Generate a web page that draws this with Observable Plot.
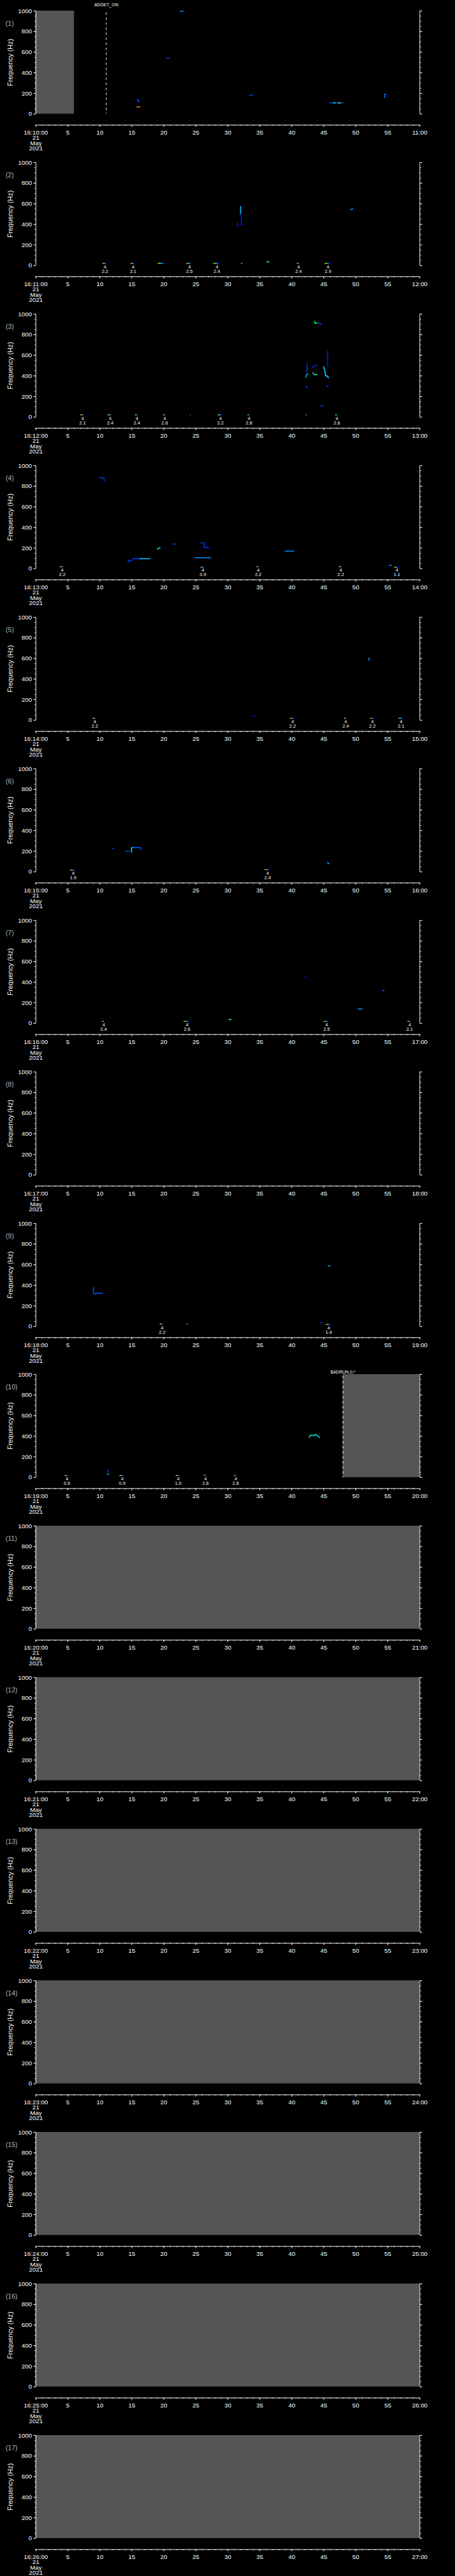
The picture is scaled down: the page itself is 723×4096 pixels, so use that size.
<!DOCTYPE html>
<html><head><meta charset="utf-8">
<script src="https://cdn.jsdelivr.net/npm/d3@7"></script>
<script src="https://cdn.jsdelivr.net/npm/@observablehq/plot@0.6"></script>
<style>
html,body{margin:0;padding:0;background:#000;}
#root{position:relative;width:723px;height:4096px;background:#000;overflow:hidden;}
.panel{position:absolute;left:0;width:723px;}
.panel svg{display:block;overflow:visible;}
</style></head><body>
<svg width="0" height="0" style="position:absolute;left:0;top:0">
<defs><linearGradient id="rainbowBar" x1="0" y1="0" x2="1" y2="0">
<stop offset="0" stop-color="#d00000"/>
<stop offset="0.25" stop-color="#ffff00"/>
<stop offset="0.42" stop-color="#00ff80"/>
<stop offset="0.58" stop-color="#00c8ff"/>
<stop offset="0.72" stop-color="#0000ff"/>
<stop offset="1" stop-color="#0000c0"/>
</linearGradient></defs></svg>
<div id="root"></div>
<script>
// ---------------- data ----------------
const panelLabels = ["(1)","(2)","(3)","(4)","(5)","(6)","(7)","(8)","(9)","(10)","(11)","(12)","(13)","(14)","(15)","(16)","(17)"];
const panelStart = ["16:10:00","16:11:00","16:12:00","16:13:00","16:14:00","16:15:00","16:16:00","16:17:00","16:18:00","16:19:00","16:20:00","16:21:00","16:22:00","16:23:00","16:24:00","16:25:00","16:26:00"];
const panelEnd = ["11:00","12:00","13:00","14:00","15:00","16:00","17:00","18:00","19:00","20:00","21:00","22:00","23:00","24:00","25:00","26:00","27:00"];
const dateLines = ["21","May","2021"];
const timeDomain = [0, 60];
const freqDomain = [0, 1000];
const xTickValues = [0,5,10,15,20,25,30,35,40,45,50,55,60];
const xTickLabels = [null,"5","10","15","20","25","30","35","40","45","50","55",null];
const yTickValues = [0,200,400,600,800,1000];
const yTickLabels = ["0","200","400","600","800","1000"];
const yLabel = "Frequency (Hz)";

// no-data (grey) spans
const gapPanel = [1,10,11,12,13,14,15,16,17];
const gapStart = [0,48,0,0,0,0,0,0,0];
const gapEnd   = [6,60,60,60,60,60,60,60,60];

// event markers
const markPanel = [1,10];
const markTime = [11,48];
const markLabel = ["ADDET_ON","$ADRUN,0,*"];

// detections near 0 Hz with count / value annotations
const barPanel = [2,2,2,2,2,2,2,2, 3,3,3,3,3,3,3,3,3, 4,4,4,4,4, 5,5,5,5,5, 6,6, 7,7,7,7, 9,9,9, 10,10,10,10,10];
const barStart = [10.4,14.8,19.0,23.5,27.7,32.1,40.8,45.1, 6.92,11.18,15.49,19.89,24.1,28.42,33.09,42.16,46.79, 3.74,25.74,34.5,47.33,56.0, 8.87,39.67,48.15,52.23,56.68, 5.33,35.72, 10.37,23.07,44.93,58.08, 19.35,23.56,45.29, 4.51,13.04,21.84,26.29,31.0];
const barEnd   = [11.2,15.6,20.4,24.5,28.9,32.4,41.3,46.2, 7.69,12.04,16.08,20.39,24.3,29.28,33.54,42.43,47.29, 4.51,26.47,35.0,47.97,56.86, 9.55,40.58,48.7,52.96,57.49, 6.33,36.72, 10.82,24.2,45.97,58.76, 20.12,23.84,46.24, 5.19,13.95,22.66,26.74,31.46];
const barFreq  = [19,19,19,19,19,19,19,19, 19,19,19,19,19,19,19,19,19, 16,11,16,16,11, 16,16,16,16,16, 14,19, 16,16,16,16, 21,21,17, 15,15,15,19,15];
const barCount = ["4","4","","4","4","","4","4", "4","4","4","4","","4","4","","4", "4","4","4","4","4", "4","4","4","4","4", "4","4", "4","4","4","4", "4","","4", "4","4","4","4","4"];
const barValue = ["2.2","2.1","","2.5","2.4","","2.4","2.9", "2.1","2.4","2.4","2.6","","2.2","2.8","","2.6", "2.2","0.9","2.2","2.2","1.1", "2.2","2.2","2.4","2.2","2.1", "1.9","2.4", "2.4","2.6","2.5","2.1", "2.2","","1.4", "0.9","0.9","1.0","2.6","2.8"];

// spectrogram traces (time s, frequency Hz, relative intensity 0..1)
const trPanel = [1,1,1,1,1,1,1,1,1,1,1, 2,2,2,2,2, 3,3,3,3,3,3,3,3,3,3,3, 4,4,4,4,4,4,4,4,4, 5,5, 6,6,6,6,6, 7,7,7,7, 9,9,9, 10,10,10];
const trLevel = [.25,.1,.15,.9,.1,.1,.45,.1,.7,.1,.2, .35,.05,.05,.5,.25, .6,.1,.1,.3,.1,.5,.4,.05,.1,.1,.1, .1,.1,.35,.45,.1,.1,.25,.25,.3, .05,.3, .1,.1,.4,.15,.3, .6,.05,.15,.25, .15,.1,.3, .15,.3,.45];
const trTimes = [
  [22.6,23.0],[20.5,20.8],[15.8,16.0,16.0,16.1],[15.8,16.2],[33.4,33.9],[45.9,46.5],[46.5,46.9],[46.9,47.3],[47.3,47.7],[47.7,48.0],[54.5,54.5,54.7],
  [32.0,32.0],[32.05,32.1,32.1,32.3],[31.5,31.5,31.7],[36.1,36.4],[49.2,49.5],
  [43.6,43.6,43.9],[44.1,44.6],[42.4,42.4,42.2],[42.2,42.3,42.5],[43.2,43.5,43.9],[43.3,43.5,43.9],[45.0,45.2,45.3,45.6,45.7],[45.6,45.6,45.5],[42.3,42.4],[45.5,45.7],[44.5,44.9],
  [9.9,10.6,10.7],[14.4,14.5,15.0,15.2,16.3],[16.3,17.8],[19.0,19.4],[21.5,21.9],[25.8,26.3,26.3,27.0],[24.9,27.3],[39.0,40.3],[55.3,55.5],
  [34.0,34.2],[52.1,52.0],
  [11.9,12.1],[14.0,14.6],[14.95,14.95,15.3],[15.3,16.3,16.4],[45.6,45.8],
  [30.2,30.5],[42.1,42.3],[54.2,54.4],[50.4,51.0],
  [9.0,9.0,9.4,9.7,10.0,10.4],[44.5,44.7],[45.75,45.95],
  [11.2,11.4],[11.2,11.4],[42.75,42.85,43.6,43.7,43.9,44.1,44.3]
];
const trFreqs = [
  [998,998],[541,541],[137,137,120,117],[69,69],[180,184],[108,108],[108,108],[108,108],[108,108],[108,108],[162,191,191],
  [573,499],[499,490,395,392],[411,385,385],[36,36],[545,549],
  [931,912,912],[917,900],[516,450,447],[387,415,420],[487,490,506],[430,413,413],[487,435,400,400,380],[642,505,501],[300,284],[300,302],[110,110],
  [884,884,854],[62,78,80,97,97],[97,97],[190,205],[239,239],[252,252,207,205],[107,107],[170,170],[33,33],
  [37,37],[602,587],
  [226,226],[200,200],[193,233,236],[236,236,219],[89,79],
  [37,37],[449,441],[319,319],[140,140],
  [378,321,318,327,321,325],[37,37],[587,587],
  [64,64],[32,32],[389,407,410,418,410,400,389]
];

// ---------------- drawing ----------------
const s = 723 / 1024;
const H = 4096 / 17;
const font = "'Liberation Sans', Arial, sans-serif";
const minorX = d3.range(0, 61, 1);
const minorY = d3.range(0, 1001, 50);

const bars = barPanel.map((p, i) => ({p, t0: barStart[i], t1: barEnd[i], f: barFreq[i], count: barCount[i], value: barValue[i]}));
const gaps = gapPanel.map((p, i) => ({p, t0: gapStart[i], t1: gapEnd[i]}));
const marksData = markPanel.map((p, i) => ({p, t: markTime[i], label: markLabel[i]}));
const points = [];
trPanel.forEach((p, i) => trTimes[i].forEach((t, j) => points.push({p, id: i, t, f: trFreqs[i][j], v: trLevel[i]})));

const root = document.getElementById("root");

for (let k = 0; k < 17; k++) {
  const p = k + 1;
  const pb = bars.filter(d => d.p === p);
  const pl = pb.filter(d => d.count !== "");
  const pg = gaps.filter(d => d.p === p);
  const pm = marksData.filter(d => d.p === p);
  const pp = points.filter(d => d.p === p);
  const xFormat = d => {
    const i = xTickValues.indexOf(d);
    if (i === 0) return [panelStart[k], ...dateLines].join("\n");
    if (i === xTickValues.length - 1) return panelEnd[k];
    return xTickLabels[i];
  };
  const yFormat = d => yTickLabels[yTickValues.indexOf(d)];

  const chart = Plot.plot({
    width: 723,
    height: H,
    marginLeft: 80 * s,
    marginRight: 80 * s,
    marginTop: 24 * s,
    marginBottom: H - 256 * s,
    x: {domain: timeDomain},
    y: {domain: freqDomain},
    color: {type: "linear", domain: [0, 0.2, 0.4, 0.6, 0.8, 1], range: ["#0000e8", "#0070ff", "#00e0ff", "#00ff60", "#ffff00", "#ff0000"]},
    style: {background: "#000", color: "#fff", fontFamily: font, overflow: "visible"},
    marks: [
      Plot.rect(pg, {x1: "t0", x2: "t1", fill: "#555555"}),
      Plot.line(pp, {x: "t", y: "f", z: "id", stroke: "v", strokeWidth: 1.6, strokeLinecap: "square"}),
      Plot.rect(pb, {x1: "t0", x2: "t1", y1: d => d.f - 4, y2: d => d.f + 4, fill: "url(#rainbowBar)"}),
      Plot.ruleX(pm, {x: "t", stroke: "#fff", strokeWidth: 1, strokeDasharray: `${5.3 * s},${6 * s}`, insetTop: 4 * s}),
      Plot.text(pm, {x: "t", text: "label", frameAnchor: "top", textAnchor: "middle", dy: (p === 1 ? -18 : -9) * s, fontSize: 10 * s, fill: "#fff"}),
      Plot.text(pl, {x: d => (d.t0 + d.t1) / 2, text: "count", frameAnchor: "bottom", textAnchor: "middle", dy: 7 * s, fontSize: 10.5 * s, fill: "#fff"}),
      Plot.text(pl, {x: d => (d.t0 + d.t1) / 2, text: "value", frameAnchor: "bottom", textAnchor: "middle", dy: 16.5 * s, fontSize: 10.5 * s, fill: "#fff"}),
      // frequency axes (left labelled, right unlabelled)
      Plot.ruleX(timeDomain, {stroke: "#fff", strokeWidth: 1}),
      Plot.axisY(yTickValues, {anchor: "left", tickSize: 4.7 * s, tickPadding: 4.3 * s, tickFormat: yFormat, fontSize: 14 * s, label: null, stroke: "#fff", fill: "#fff"}),
      Plot.axisY(minorY, {anchor: "left", tickSize: 2.4 * s, fill: "none", label: null, stroke: "#fff"}),
      Plot.axisY(yTickValues, {anchor: "right", tickSize: 4.7 * s, fill: "none", label: null, stroke: "#fff"}),
      Plot.axisY(minorY, {anchor: "right", tickSize: 2.4 * s, fill: "none", label: null, stroke: "#fff"}),
      // time axis, set below the frame
      Plot.ruleY([freqDomain[0]], {dy: 25 * s, stroke: "#fff", strokeWidth: 1}),
      Plot.axisX(xTickValues, {anchor: "bottom", tickSize: 4.7 * s, tickPadding: 7.6 * s, dy: 25 * s, tickFormat: xFormat, fontSize: 14 * s, lineHeight: 0.86, label: null, stroke: "#fff", fill: "#fff"}),
      Plot.axisX(minorX, {anchor: "bottom", tickSize: 2.4 * s, dy: 25 * s, fill: "none", label: null, stroke: "#fff"}),
      Plot.text([yLabel], {text: d => d, frameAnchor: "left", textAnchor: "middle", rotate: -90, dx: -57 * s, fontSize: 15.5 * s, fill: "#fff"}),
      Plot.text([panelLabels[k]], {text: d => d, frameAnchor: "top-left", textAnchor: "start", dx: -68 * s, dy: 23 * s, fontSize: 15 * s, fill: "#b4b4b4"})
    ]
  });
  const div = document.createElement("div");
  div.className = "panel";
  div.style.top = (k * H) + "px";
  div.style.height = H + "px";
  div.appendChild(chart);
  root.appendChild(div);
}
</script></body></html>
